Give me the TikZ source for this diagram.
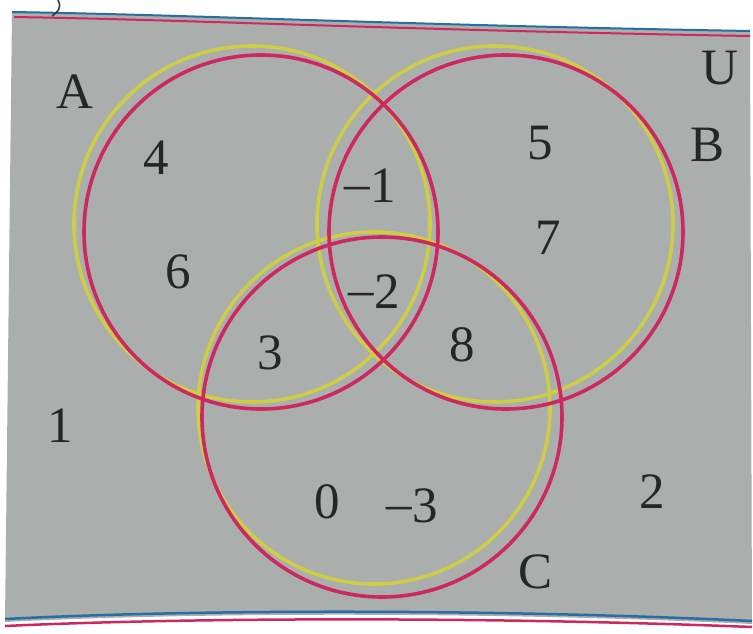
\documentclass[tikz,border=0pt]{standalone}
\usepackage{fontspec}
\setmainfont{Liberation Serif}
\definecolor{bggray}{RGB}{170,174,172}
\definecolor{cred}{RGB}{205,40,95}
\definecolor{cyel}{RGB}{205,205,70}
\definecolor{cblue}{RGB}{40,110,160}
\tikzset{
  redc/.style={draw=cred, line width=3.6pt},
  yelc/.style={draw=cyel, line width=3.6pt},
  lbl/.style={font=\fontsize{51}{56}\selectfont, text=black!85, inner sep=0pt},
}
\newcommand{\mymin}{\raisebox{2pt}{–}\kern1pt}
\begin{document}
\begin{tikzpicture}[x=1pt,y=-1pt]
\useasboundingbox (0,0) rectangle (753,634);
% sheet
\fill[bggray] (12,12) .. controls (200,15) and (400,25) .. (750,31) -- (752,624) .. controls (500,612) and (200,612) .. (5,622) -- cycle;
\draw[cblue, line width=2pt] (12,12) .. controls (200,15) and (400,25) .. (750,31);
\draw[cred, line width=2pt] (14,17) .. controls (200,20) and (400,30) .. (750,36);
\draw[cblue, line width=2.5pt] (5,619) .. controls (200,609) and (500,609) .. (752,621);
\draw[cred, line width=2.5pt] (5,626) .. controls (200,617) and (500,617) .. (752,627);
\draw[black!80, line width=1.5pt] (58,0) .. controls (62,8) and (58,12) .. (52,16);
% circles
\draw[yelc] (252,224) circle (178);
\draw[yelc] (495,224) circle (178);
\draw[yelc] (374,408) circle (176);
\draw[redc] (261,232) circle (177);
\draw[redc] (506,232) circle (177);
\draw[redc] (382,417) circle (180);
% set labels
\node[lbl] (lA) at (75,92) {A};
\node[lbl] (lU) at (720,68) {U};
\node[lbl] (lB) at (708,145) {B};
\node[lbl] (lC) at (536,572) {C};
% elements
\node[lbl] (n4) at (156,158) {4};
\node[lbl] (n6) at (178,272) {6};
\node[lbl] (nm1) at (370,186) {\mymin1};
\node[lbl] (n5) at (540,143) {5};
\node[lbl] (n7) at (548,238) {7};
\node[lbl] (nm2) at (374,292) {\mymin2};
\node[lbl] (n3) at (270,353) {3};
\node[lbl] (n8) at (462,345) {8};
\node[lbl] (n1) at (60,426) {1};
\node[lbl] (n0) at (327,502) {0};
\node[lbl] (nm3) at (412,506) {\mymin3};
\node[lbl] (n2) at (652,492) {2};
\end{tikzpicture}
\end{document}
